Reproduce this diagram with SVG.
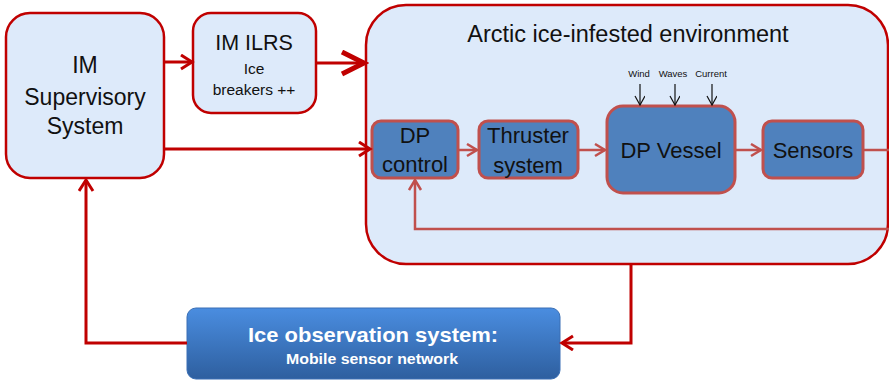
<svg xmlns="http://www.w3.org/2000/svg" width="889" height="381" viewBox="0 0 889 381">
<style>
.lb{fill:#ddeafa;stroke:#c00000;stroke-width:2.5}
.ib{fill:#4f81bd;stroke:#c0504d;stroke-width:3}
.t{font-family:"Liberation Sans",Arial,sans-serif;fill:#111;text-anchor:middle}
.c{fill:none;stroke:#c00000;stroke-width:3}
.ci{fill:none;stroke:#c0504d;stroke-width:2.5}
.ck{fill:none;stroke:#111;stroke-width:1.2}
</style>
<defs>
<marker id="ar" markerUnits="userSpaceOnUse" markerWidth="16" markerHeight="18" refX="13" refY="8" orient="auto"><path d="M2,1 L13,8 L2,15" fill="none" stroke="#c00000" stroke-width="3"/></marker>
<marker id="arb" markerUnits="userSpaceOnUse" markerWidth="30" markerHeight="30" refX="25" refY="13" orient="auto"><path d="M3,2 L25,13 L3,24" fill="none" stroke="#c00000" stroke-width="5"/></marker>
<marker id="ai" markerUnits="userSpaceOnUse" markerWidth="16" markerHeight="16" refX="12" refY="7" orient="auto"><path d="M2,1 L12,7 L2,13" fill="none" stroke="#c0504d" stroke-width="2.5"/></marker>
<marker id="ak" markerUnits="userSpaceOnUse" markerWidth="12" markerHeight="12" refX="10" refY="5" orient="auto"><path d="M1,0 L10,5 L1,10" fill="none" stroke="#111" stroke-width="1.2"/></marker>
<linearGradient id="gb" x1="0" y1="0" x2="0" y2="1"><stop offset="0" stop-color="#4a8de0"/><stop offset="1" stop-color="#2e5f9f"/></linearGradient>
</defs>
<g id="env"><rect class="lb" x="366" y="5" width="522" height="259" rx="40"/>
<text class="t" x="628" y="42" font-size="23.5">Arctic ice-infested environment</text></g>
<g id="supervisory"><rect class="lb" x="6" y="13" width="158" height="165" rx="24"/>
<text class="t" x="85" y="73" font-size="23">IM</text><text class="t" x="85" y="105" font-size="23">Supervisory</text><text class="t" x="85" y="134" font-size="23">System</text></g>
<g id="ilrs"><rect class="lb" x="193" y="13" width="123" height="100" rx="18"/>
<text class="t" x="254" y="50" font-size="21.5">IM ILRS</text><text class="t" x="254" y="74" font-size="15.5">Ice</text><text class="t" x="254" y="95" font-size="15.5">breakers ++</text></g>
<g id="dpcontrol"><rect class="ib" x="372" y="121" width="86" height="57" rx="9"/>
<text class="t" x="415" y="143" font-size="22">DP</text><text class="t" x="415" y="172" font-size="22">control</text></g>
<g id="thruster"><rect class="ib" x="479" y="121" width="99" height="57" rx="9"/>
<text class="t" x="528" y="143" font-size="22">Thruster</text><text class="t" x="528" y="173" font-size="22">system</text></g>
<g id="vessel"><rect class="ib" x="607" y="106" width="128" height="87" rx="16"/>
<text class="t" x="671" y="158" font-size="22">DP Vessel</text></g>
<g id="sensors"><rect class="ib" x="763" y="121" width="100" height="57" rx="9"/>
<text class="t" x="813" y="158" font-size="22">Sensors</text></g>
<g id="disturbances">
<text class="t" x="639" y="77" font-size="9.5">Wind</text><text class="t" x="673" y="77" font-size="9.5">Waves</text><text class="t" x="711" y="77" font-size="9.5">Current</text></g>
<g id="iceobs"><rect x="187" y="308" width="373" height="71" rx="9" fill="url(#gb)" stroke="#3a6fb5" stroke-width="1"/>
<text x="373" y="342" font-family="'Liberation Sans',Arial,sans-serif" font-size="21" font-weight="bold" fill="#fff" text-anchor="middle" textLength="250" lengthAdjust="spacingAndGlyphs">Ice observation system:</text>
<text x="372" y="364" font-family="'Liberation Sans',Arial,sans-serif" font-size="14" font-weight="bold" fill="#fff" text-anchor="middle" textLength="172" lengthAdjust="spacingAndGlyphs">Mobile sensor network</text></g>
<g id="connectors">
<path class="c" d="M164,62 H192" marker-end="url(#ar)"/>
<path class="c" d="M316,63 H364" stroke-width="5" marker-end="url(#arb)"/>
<path class="c" d="M164,149 H370" marker-end="url(#ar)"/>
<path class="c" d="M631,265 V343 H562" marker-end="url(#ar)"/>
<path class="c" d="M187,343 H86 V180" marker-end="url(#ar)"/>
<path class="ci" d="M458,150 H477" marker-end="url(#ai)"/>
<path class="ci" d="M578,150 H605" marker-end="url(#ai)"/>
<path class="ci" d="M735,150 H761" marker-end="url(#ai)"/>
<path class="ci" d="M863,150 H889"/>
<path class="ci" d="M889,229 H415 V180" marker-end="url(#ai)"/>
<path class="ck" d="M640,84 V105" marker-end="url(#ak)"/>
<path class="ck" d="M675,84 V105" marker-end="url(#ak)"/>
<path class="ck" d="M712,84 V105" marker-end="url(#ak)"/>
</g>
</svg>
